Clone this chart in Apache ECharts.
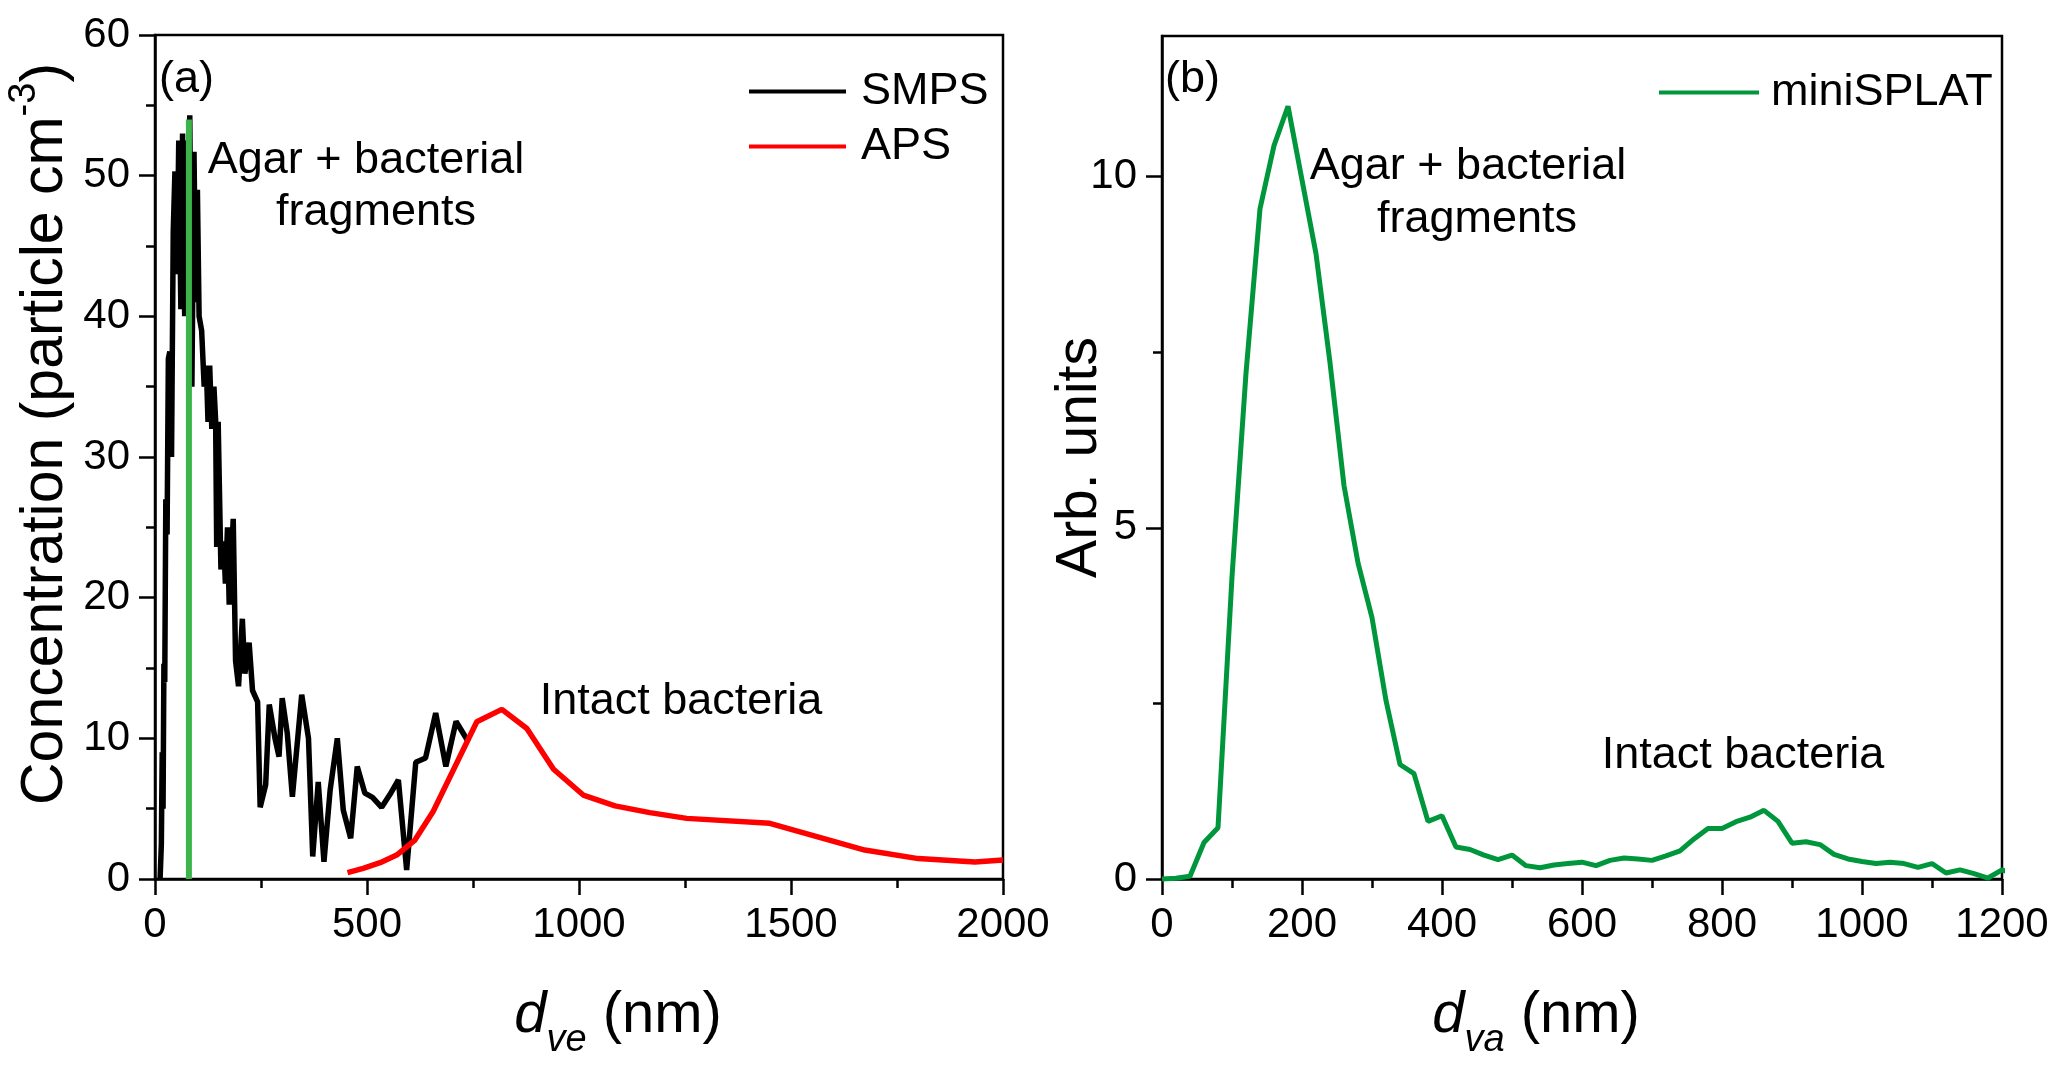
<!DOCTYPE html>
<html><head><meta charset="utf-8">
<script src="https://cdn.jsdelivr.net/npm/echarts@6/dist/echarts.min.js"></script>
<style>html,body{margin:0;padding:0;background:#fff}#c{width:2067px;height:1077px}</style>
</head><body><div id="c"></div>
<script>
// ---------- data ----------
const smpsX = [12,15,17,19,21,23,25.5,28.5,31.5,35,39,43,47,52,56,61,65,70,74,77,82,87,92,96,100,104,110,116,121,125,129,134,139,143,145.5,149,155.5,162,166,171,175,184.5,190,197,206,212,222,230,242,248,261,269.5,283,292.5,300,312,324,346,362,372,385,398.5,413,430,444,461.5,477,495,513,534.5,554,574,593.5,615,638,662,686,710,739];
const smpsY = [0,2.5,9,5,15.3,14,27,24.5,37,37.5,30,46,50.3,43,52.5,40.5,53,40,52.5,45,54.3,35,51.7,41,49,40,39,35,36.5,32.5,36.5,32,35,32.6,23.6,32.5,22,24,21,25,19.5,25.6,15.5,13.7,18.5,14.6,16.8,13.4,12.6,5.1,6.7,12.4,10.0,8.7,12.85,10.35,5.85,13.1,10.0,1.6,6.9,1.23,6.3,10.0,4.9,2.9,8.0,6.1,5.8,5.1,6.0,7.04,0.64,8.3,8.6,11.8,8.0,11.2,9.76];
const apsX = [454,491,531,570,613,656,759,818,877,940,1010,1085,1167,1254,1450,1674,1800,1934,2000];
const apsY = [0.45,0.76,1.16,1.7,2.77,4.8,11.18,12.06,10.7,7.8,5.97,5.2,4.72,4.31,3.96,2.06,1.45,1.21,1.35];
const markX = [80,80];
const markY = [0,54];
const splatX = [0,20,40,60,80,100,120,140,160,180,200,220,240,260,280,300,320,340,360,380,400,420,440,460,480,500,520,540,560,580,600,620,640,660,680,700,720,740,760,780,800,820,840,860,880,900,920,940,960,980,1000,1020,1040,1060,1080,1100,1120,1140,1160,1180,1200,1220];
const splatY = [0,0.01,0.04,0.52,0.73,4.3,7.2,9.54,10.44,11.0,9.95,8.9,7.35,5.6,4.5,3.72,2.54,1.63,1.5,0.82,0.9,0.455,0.42,0.34,0.275,0.34,0.19,0.16,0.2,0.22,0.24,0.19,0.265,0.3,0.285,0.265,0.33,0.4,0.57,0.72,0.72,0.815,0.88,0.977,0.82,0.51,0.53,0.49,0.35,0.285,0.25,0.22,0.24,0.22,0.166,0.22,0.085,0.13,0.076,0.014,0.13,0.06];
const yTicksB = [0,5,10];
const yMinorB = [2.5,7.5];

// ---------- helpers ----------
const FF = '"Liberation Sans", Arial, sans-serif';
const pairs = (xs, ys) => xs.map((x, i) => [x, ys[i]]);
const lineW = 2.5;
const tickStyle = {color:'#000', width:lineW};
const lbl = {fontSize:42, color:'#000', fontFamily:FF, margin:25, formatter:(v) => String(v)};
function baseAxis(extra){
  return Object.assign({
    type:'value',
    axisLine:{show:true, onZero:false, lineStyle:{color:'#000', width:lineW}},
    axisTick:{show:true, length:16, lineStyle:tickStyle},
    minorTick:{show:true, splitNumber:2, length:9, lineStyle:tickStyle},
    splitLine:{show:false},
    minorSplitLine:{show:false},
    axisLabel:Object.assign({}, lbl),
    nameLocation:'middle',
    nameMoveOverlap:false
  }, extra);
}
const xName = (sub) => ({
  name:'{i|d}{s|' + sub + '}{n| (nm)}',
  nameGap:108,
  nameTextStyle:{
    color:'#000', fontFamily:FF, fontSize:58,
    rich:{
      i:{fontSize:58, fontStyle:'italic', fontFamily:FF, color:'#000', verticalAlign:'top', lineHeight:58},
      s:{fontSize:38, fontStyle:'italic', fontFamily:FF, color:'#000', verticalAlign:'bottom', lineHeight:72},
      n:{fontSize:58, fontFamily:FF, color:'#000', verticalAlign:'top', lineHeight:58}
    }
  }
});
const legIcon = 'path://M0,0L100,0L100,4L0,4Z';

const chart = echarts.init(document.getElementById('c'), null, {renderer:'canvas'});
const optA_x = baseAxis(Object.assign({gridIndex:0, min:0, max:2000, interval:500}, xName('ve')));
optA_x.nameTextStyle.padding = [0,0,0,78];
const optB_x = baseAxis(Object.assign({gridIndex:1, min:0, max:1200, interval:200}, xName('va')));
optB_x.nameTextStyle.padding = [0,92,0,0];

const option = {
  backgroundColor:'#fff',
  animation:false,
  textStyle:{fontFamily:FF},
  grid:[
    {left:155, top:35, width:848, height:844, show:true, borderColor:'#000', borderWidth:lineW, backgroundColor:'transparent'},
    {left:1162, top:36, width:840, height:843, show:true, borderColor:'#000', borderWidth:lineW, backgroundColor:'transparent'}
  ],
  xAxis:[optA_x, optB_x],
  yAxis:[
    baseAxis({gridIndex:0, min:0, max:60, interval:10, nameRotate:90, nameGap:80,
      name:'{t|Concentration (particle cm}{p|-3}{t|)}',
      nameTextStyle:{color:'#000', fontFamily:FF, fontSize:59, padding:[0,0,0,46],
        rich:{
          t:{fontSize:59, fontFamily:FF, color:'#000', verticalAlign:'bottom', lineHeight:59},
          p:{fontSize:38, fontFamily:FF, color:'#000', verticalAlign:'top', lineHeight:69}
        }}
    }),
    baseAxis({gridIndex:1, min:0, max:12, interval:5, nameRotate:90, nameGap:53,
      name:'Arb. units',
      nameTextStyle:{color:'#000', fontFamily:FF, fontSize:57},
      axisTick:{show:true, length:16, lineStyle:tickStyle, customValues:yTicksB},
      axisLabel:Object.assign({}, lbl, {customValues:yTicksB}),
      minorTick:{show:false}
    }),
    baseAxis({gridIndex:1, min:0, max:12, position:'left',
      axisLine:{show:false},
      axisLabel:{show:false},
      axisTick:{show:true, length:9, lineStyle:tickStyle, customValues:yMinorB},
      minorTick:{show:false}
    })
  ],
  legend:[
    {data:['SMPS','APS'], orient:'vertical', left:749, top:69, padding:0, icon:legIcon, itemWidth:97, itemHeight:4, itemGap:10,
      textStyle:{fontSize:45, color:'#000', fontFamily:FF, padding:[0,0,0,10]}},
    {data:['miniSPLAT'], orient:'vertical', left:1659, top:70, padding:0, icon:legIcon, itemWidth:102, itemHeight:4,
      textStyle:{fontSize:45, color:'#000', fontFamily:FF, padding:[0,0,0,6]}}
  ],
  series:[
    {name:'SMPS', type:'line', xAxisIndex:0, yAxisIndex:0, data:pairs(smpsX, smpsY), symbol:'none',
      color:'#000', lineStyle:{color:'#000', width:5.5}, z:2},
    {name:'APS', type:'line', xAxisIndex:0, yAxisIndex:0, data:pairs(apsX, apsY), symbol:'none',
      color:'#ff0000', lineStyle:{color:'#ff0000', width:5.5}, z:3},
    {name:'peak', type:'line', xAxisIndex:0, yAxisIndex:0, data:pairs(markX, markY), symbol:'none',
      color:'#3cb44b', lineStyle:{color:'#3cb44b', width:6}, z:4},
    {name:'miniSPLAT', type:'line', xAxisIndex:1, yAxisIndex:1, data:pairs(splatX, splatY), symbol:'none',
      clip:false, color:'#00963c', lineStyle:{color:'#00963c', width:5}, z:3}
  ],
  graphic:[
    {type:'text', x:159, y:80, style:{text:'(a)', font:'45px ' + FF, fill:'#000', textAlign:'left', textVerticalAlign:'middle'}},
    {type:'text', x:1165, y:80, style:{text:'(b)', font:'45px ' + FF, fill:'#000', textAlign:'left', textVerticalAlign:'middle'}},
    {type:'text', x:366, y:161, style:{text:'Agar + bacterial', font:'45px ' + FF, fill:'#000', textAlign:'center', textVerticalAlign:'middle'}},
    {type:'text', x:376, y:213, style:{text:'fragments', font:'45px ' + FF, fill:'#000', textAlign:'center', textVerticalAlign:'middle'}},
    {type:'text', x:681, y:702, style:{text:'Intact bacteria', font:'45px ' + FF, fill:'#000', textAlign:'center', textVerticalAlign:'middle'}},
    {type:'text', x:1468, y:167, style:{text:'Agar + bacterial', font:'45px ' + FF, fill:'#000', textAlign:'center', textVerticalAlign:'middle'}},
    {type:'text', x:1477, y:220, style:{text:'fragments', font:'45px ' + FF, fill:'#000', textAlign:'center', textVerticalAlign:'middle'}},
    {type:'text', x:1743, y:756, style:{text:'Intact bacteria', font:'45px ' + FF, fill:'#000', textAlign:'center', textVerticalAlign:'middle'}}
  ]
};
chart.setOption(option);
</script></body></html>
